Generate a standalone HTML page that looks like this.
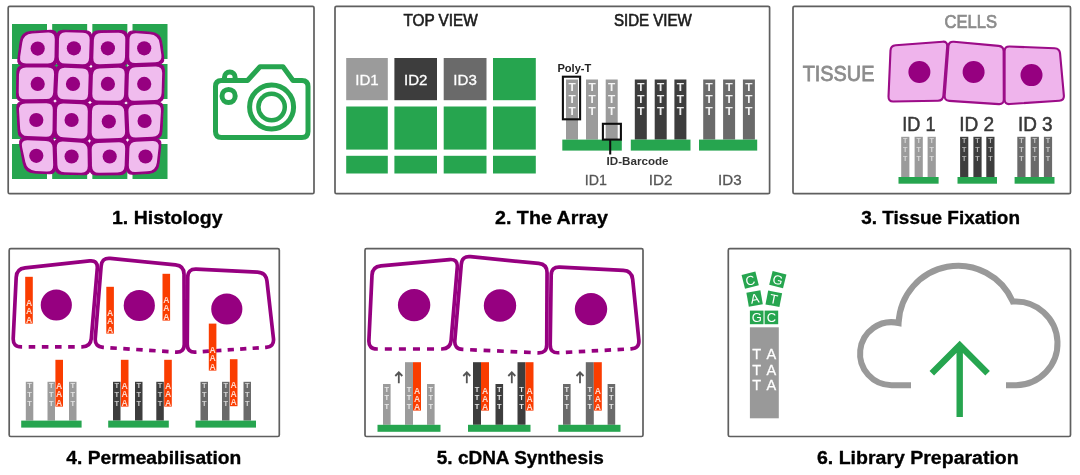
<!DOCTYPE html>
<html lang="en">
<head>
<meta charset="utf-8">
<title>Spatial transcriptomics workflow</title>
<style>
html,body{margin:0;padding:0;background:#fff;}
body{width:1080px;height:475px;overflow:hidden;}
svg{display:block;font-family:"Liberation Sans",sans-serif;will-change:transform;}
</style>
</head>
<body>
<svg width="1080" height="475" viewBox="0 0 1080 475">
<defs><filter id="soft" x="0" y="0" width="1080" height="475" filterUnits="userSpaceOnUse"><feGaussianBlur stdDeviation="0.4"/></filter></defs>
<rect width="1080" height="475" fill="#fff"/>
<g filter="url(#soft)">
<rect x="8.20" y="6.30" width="305.80" height="187.40" rx="1.5" fill="#fff" stroke="#5e5e5e" stroke-width="1.7"/>
<rect x="335.00" y="6.30" width="434.60" height="187.40" rx="1.5" fill="#fff" stroke="#5e5e5e" stroke-width="1.7"/>
<rect x="793.00" y="6.30" width="277.50" height="187.40" rx="1.5" fill="#fff" stroke="#5e5e5e" stroke-width="1.7"/>
<rect x="9.20" y="248.70" width="270.10" height="187.80" rx="1.5" fill="#fff" stroke="#5e5e5e" stroke-width="1.7"/>
<rect x="365.00" y="248.70" width="278.00" height="187.80" rx="1.5" fill="#fff" stroke="#5e5e5e" stroke-width="1.7"/>
<rect x="728.30" y="248.70" width="342.20" height="187.80" rx="1.5" fill="#fff" stroke="#5e5e5e" stroke-width="1.7"/>
<text x="112.00" y="224.40" font-size="19.20" fill="#000" font-weight="bold" text-anchor="start" textLength="110.50" lengthAdjust="spacingAndGlyphs" stroke="#000" stroke-width="0.35" stroke-linejoin="round">1. Histology</text>
<text x="495.00" y="224.40" font-size="19.20" fill="#000" font-weight="bold" text-anchor="start" textLength="113.00" lengthAdjust="spacingAndGlyphs" stroke="#000" stroke-width="0.35" stroke-linejoin="round">2. The Array</text>
<text x="861.30" y="224.40" font-size="19.20" fill="#000" font-weight="bold" text-anchor="start" textLength="158.70" lengthAdjust="spacingAndGlyphs" stroke="#000" stroke-width="0.35" stroke-linejoin="round">3. Tissue Fixation</text>
<text x="66.30" y="464.00" font-size="19.20" fill="#000" font-weight="bold" text-anchor="start" textLength="175.00" lengthAdjust="spacingAndGlyphs" stroke="#000" stroke-width="0.35" stroke-linejoin="round">4. Permeabilisation</text>
<text x="436.80" y="464.00" font-size="19.20" fill="#000" font-weight="bold" text-anchor="start" textLength="167.00" lengthAdjust="spacingAndGlyphs" stroke="#000" stroke-width="0.35" stroke-linejoin="round">5. cDNA Synthesis</text>
<text x="817.00" y="464.00" font-size="19.20" fill="#000" font-weight="bold" text-anchor="start" textLength="201.70" lengthAdjust="spacingAndGlyphs" stroke="#000" stroke-width="0.35" stroke-linejoin="round">6. Library Preparation</text>
<rect x="12.00" y="24.00" width="35.00" height="35.00" fill="#27a550" />
<rect x="52.17" y="24.00" width="35.00" height="35.00" fill="#27a550" />
<rect x="92.34" y="24.00" width="35.00" height="35.00" fill="#27a550" />
<rect x="132.51" y="24.00" width="35.00" height="35.00" fill="#27a550" />
<rect x="12.00" y="64.00" width="35.00" height="35.00" fill="#27a550" />
<rect x="52.17" y="64.00" width="35.00" height="35.00" fill="#27a550" />
<rect x="92.34" y="64.00" width="35.00" height="35.00" fill="#27a550" />
<rect x="132.51" y="64.00" width="35.00" height="35.00" fill="#27a550" />
<rect x="12.00" y="104.00" width="35.00" height="35.00" fill="#27a550" />
<rect x="52.17" y="104.00" width="35.00" height="35.00" fill="#27a550" />
<rect x="92.34" y="104.00" width="35.00" height="35.00" fill="#27a550" />
<rect x="132.51" y="104.00" width="35.00" height="35.00" fill="#27a550" />
<rect x="12.00" y="144.00" width="35.00" height="35.00" fill="#27a550" />
<rect x="52.17" y="144.00" width="35.00" height="35.00" fill="#27a550" />
<rect x="92.34" y="144.00" width="35.00" height="35.00" fill="#27a550" />
<rect x="132.51" y="144.00" width="35.00" height="35.00" fill="#27a550" />
<path d="M20.24 41.42 Q21.50 32.00 30.98 31.47 L50.51 30.37 Q57.00 30.00 56.91 36.50 L56.56 61.00 Q56.50 65.50 52.00 65.50 L23.50 65.50 Q17.00 65.50 17.87 59.06 Z" fill="#960080" stroke="#960080" stroke-width="1.1" stroke-linejoin="round"/>
<path d="M56.91 36.50 Q57.00 30.00 63.50 30.19 L85.50 30.81 Q92.00 31.00 91.82 37.50 L91.13 62.00 Q91.00 66.50 86.50 66.37 L61.00 65.63 Q56.50 65.50 56.56 61.00 Z" fill="#960080" stroke="#960080" stroke-width="1.1" stroke-linejoin="round"/>
<path d="M91.82 37.50 Q92.00 31.00 98.50 30.91 L121.00 30.59 Q127.50 30.50 127.41 37.00 L127.06 61.00 Q127.00 65.50 122.50 65.62 L95.50 66.38 Q91.00 66.50 91.13 62.00 Z" fill="#960080" stroke="#960080" stroke-width="1.1" stroke-linejoin="round"/>
<path d="M127.41 37.00 Q127.50 30.50 133.98 30.99 L151.03 32.28 Q160.50 33.00 161.72 42.42 L163.67 57.55 Q164.50 64.00 158.01 64.26 L131.50 65.32 Q127.00 65.50 127.06 61.00 Z" fill="#960080" stroke="#960080" stroke-width="1.1" stroke-linejoin="round"/>
<path d="M16.91 72.00 Q17.00 65.50 23.50 65.50 L52.00 65.50 Q56.50 65.50 56.31 70.00 L55.19 96.50 Q55.00 101.00 50.50 101.06 L23.00 101.42 Q16.50 101.50 16.59 95.00 Z" fill="#960080" stroke="#960080" stroke-width="1.1" stroke-linejoin="round"/>
<path d="M56.31 70.00 Q56.50 65.50 61.00 65.63 L86.50 66.37 Q91.00 66.50 90.88 71.00 L90.12 98.00 Q90.00 102.50 85.50 102.31 L59.50 101.19 Q55.00 101.00 55.19 96.50 Z" fill="#960080" stroke="#960080" stroke-width="1.1" stroke-linejoin="round"/>
<path d="M90.88 71.00 Q91.00 66.50 95.50 66.38 L122.50 65.62 Q127.00 65.50 126.88 70.00 L126.12 98.50 Q126.00 103.00 121.50 102.94 L94.50 102.56 Q90.00 102.50 90.12 98.00 Z" fill="#960080" stroke="#960080" stroke-width="1.1" stroke-linejoin="round"/>
<path d="M126.88 70.00 Q127.00 65.50 131.50 65.32 L158.01 64.26 Q164.50 64.00 164.33 70.50 L163.67 95.50 Q163.50 102.00 157.00 102.17 L130.50 102.88 Q126.00 103.00 126.12 98.50 Z" fill="#960080" stroke="#960080" stroke-width="1.1" stroke-linejoin="round"/>
<path d="M16.86 107.99 Q16.50 101.50 23.00 101.42 L50.50 101.06 Q55.00 101.00 54.94 105.50 L54.56 134.50 Q54.50 139.00 50.00 138.88 L25.00 138.18 Q18.50 138.00 18.14 131.51 Z" fill="#960080" stroke="#960080" stroke-width="1.1" stroke-linejoin="round"/>
<path d="M54.94 105.50 Q55.00 101.00 59.50 101.19 L85.50 102.31 Q90.00 102.50 89.94 107.00 L89.56 136.50 Q89.50 141.00 85.01 140.74 L58.99 139.26 Q54.50 139.00 54.56 134.50 Z" fill="#960080" stroke="#960080" stroke-width="1.1" stroke-linejoin="round"/>
<path d="M89.94 107.00 Q90.00 102.50 94.50 102.56 L121.50 102.94 Q126.00 103.00 126.18 107.50 L127.32 135.50 Q127.50 140.00 123.00 140.12 L94.00 140.88 Q89.50 141.00 89.56 136.50 Z" fill="#960080" stroke="#960080" stroke-width="1.1" stroke-linejoin="round"/>
<path d="M126.18 107.50 Q126.00 103.00 130.50 102.88 L157.00 102.17 Q163.50 102.00 163.14 108.49 L161.86 132.01 Q161.50 138.50 155.01 138.79 L132.00 139.80 Q127.50 140.00 127.32 135.50 Z" fill="#960080" stroke="#960080" stroke-width="1.1" stroke-linejoin="round"/>
<path d="M19.70 144.39 Q18.50 138.00 25.00 138.18 L50.00 138.88 Q54.50 139.00 54.63 143.50 L55.31 167.50 Q55.50 174.00 49.01 173.68 L34.49 172.97 Q25.00 172.50 23.24 163.16 Z" fill="#960080" stroke="#960080" stroke-width="1.1" stroke-linejoin="round"/>
<path d="M54.63 143.50 Q54.50 139.00 58.99 139.26 L85.01 140.74 Q89.50 141.00 89.57 145.50 L89.90 168.50 Q90.00 175.00 83.50 174.81 L62.00 174.19 Q55.50 174.00 55.31 167.50 Z" fill="#960080" stroke="#960080" stroke-width="1.1" stroke-linejoin="round"/>
<path d="M89.57 145.50 Q89.50 141.00 94.00 140.88 L123.00 140.12 Q127.50 140.00 127.37 144.50 L126.69 168.00 Q126.50 174.50 120.00 174.59 L96.50 174.91 Q90.00 175.00 89.90 168.50 Z" fill="#960080" stroke="#960080" stroke-width="1.1" stroke-linejoin="round"/>
<path d="M127.37 144.50 Q127.50 140.00 132.00 139.80 L155.01 138.79 Q161.50 138.50 160.84 144.97 L158.96 163.55 Q158.00 173.00 148.51 173.45 L132.99 174.19 Q126.50 174.50 126.69 168.00 Z" fill="#960080" stroke="#960080" stroke-width="1.1" stroke-linejoin="round"/>
<path d="M22.31 42.50 Q23.60 34.10 32.08 33.56 L47.91 32.55 Q54.90 32.10 54.79 39.10 L54.50 56.90 Q54.40 63.40 47.90 63.40 L26.10 63.40 Q19.10 63.40 20.16 56.48 Z" fill="#f0bcee"/>
<circle cx="37.70" cy="48.60" r="7.1" fill="#960080"/>
<path d="M58.99 39.10 Q59.10 32.10 66.10 32.33 L82.90 32.87 Q89.90 33.10 89.68 40.10 L89.11 57.90 Q88.90 64.40 82.40 64.19 L65.10 63.61 Q58.60 63.40 58.70 56.90 Z" fill="#f0bcee"/>
<circle cx="73.90" cy="48.30" r="7.1" fill="#960080"/>
<path d="M93.88 40.10 Q94.10 33.10 101.10 32.99 L118.40 32.71 Q125.40 32.60 125.29 39.60 L125.01 56.90 Q124.90 63.40 118.40 63.60 L99.60 64.20 Q93.10 64.40 93.31 57.90 Z" fill="#f0bcee"/>
<circle cx="107.90" cy="48.30" r="7.1" fill="#960080"/>
<path d="M129.49 39.60 Q129.60 32.60 136.57 33.21 L149.93 34.36 Q158.40 35.10 159.65 43.51 L161.37 54.98 Q162.40 61.90 155.41 62.21 L135.59 63.11 Q129.10 63.40 129.21 56.90 Z" fill="#f0bcee"/>
<circle cx="144.20" cy="48.30" r="7.1" fill="#960080"/>
<path d="M18.99 74.60 Q19.10 67.60 26.10 67.60 L47.90 67.60 Q54.40 67.60 54.09 74.09 L53.21 92.41 Q52.90 98.90 46.40 98.99 L25.60 99.30 Q18.60 99.40 18.71 92.40 Z" fill="#f0bcee"/>
<circle cx="37.70" cy="83.90" r="7.1" fill="#960080"/>
<path d="M58.29 74.09 Q58.60 67.60 65.10 67.81 L82.40 68.39 Q88.90 68.60 88.70 75.10 L88.10 93.90 Q87.90 100.40 81.41 100.08 L63.59 99.22 Q57.10 98.90 57.41 92.41 Z" fill="#f0bcee"/>
<circle cx="73.00" cy="83.90" r="7.1" fill="#960080"/>
<path d="M92.90 75.10 Q93.10 68.60 99.60 68.40 L118.40 67.80 Q124.90 67.60 124.70 74.10 L124.10 94.40 Q123.90 100.90 117.40 100.80 L98.60 100.50 Q92.10 100.40 92.30 93.90 Z" fill="#f0bcee"/>
<circle cx="107.90" cy="83.90" r="7.1" fill="#960080"/>
<path d="M128.90 74.10 Q129.10 67.60 135.59 67.31 L155.41 66.41 Q162.40 66.10 162.19 73.10 L161.61 92.90 Q161.40 99.90 154.40 100.11 L134.60 100.70 Q128.10 100.90 128.30 94.40 Z" fill="#f0bcee"/>
<circle cx="144.20" cy="83.90" r="7.1" fill="#960080"/>
<path d="M19.03 110.59 Q18.60 103.60 25.60 103.50 L46.40 103.19 Q52.90 103.10 52.80 109.60 L52.50 130.40 Q52.40 136.90 45.90 136.70 L27.60 136.12 Q20.60 135.90 20.17 128.91 Z" fill="#f0bcee"/>
<circle cx="36.30" cy="120.00" r="7.1" fill="#960080"/>
<path d="M57.00 109.60 Q57.10 103.10 63.59 103.42 L81.41 104.28 Q87.90 104.60 87.81 111.10 L87.49 132.40 Q87.40 138.90 80.91 138.48 L63.09 137.32 Q56.60 136.90 56.70 130.40 Z" fill="#f0bcee"/>
<circle cx="71.60" cy="120.00" r="7.1" fill="#960080"/>
<path d="M92.01 111.10 Q92.10 104.60 98.60 104.70 L117.40 105.00 Q123.90 105.10 124.20 111.59 L125.10 131.41 Q125.40 137.90 118.90 138.09 L98.10 138.71 Q91.60 138.90 91.69 132.40 Z" fill="#f0bcee"/>
<circle cx="108.80" cy="121.50" r="7.1" fill="#960080"/>
<path d="M128.40 111.59 Q128.10 105.10 134.60 104.90 L154.40 104.31 Q161.40 104.10 160.97 111.09 L159.83 129.41 Q159.40 136.40 152.41 136.75 L136.09 137.57 Q129.60 137.90 129.30 131.41 Z" fill="#f0bcee"/>
<circle cx="144.60" cy="121.00" r="7.1" fill="#960080"/>
<path d="M22.07 146.94 Q20.60 140.10 27.60 140.32 L45.90 140.90 Q52.40 141.10 52.61 147.60 L53.17 164.90 Q53.40 171.90 46.41 171.50 L35.59 170.88 Q27.10 170.40 25.32 162.09 Z" fill="#f0bcee"/>
<circle cx="36.30" cy="155.80" r="7.1" fill="#960080"/>
<path d="M56.81 147.60 Q56.60 141.10 63.09 141.52 L80.91 142.68 Q87.40 143.10 87.51 149.60 L87.78 165.90 Q87.90 172.90 80.90 172.67 L64.60 172.13 Q57.60 171.90 57.37 164.90 Z" fill="#f0bcee"/>
<circle cx="71.60" cy="156.50" r="7.1" fill="#960080"/>
<path d="M91.71 149.60 Q91.60 143.10 98.10 142.91 L118.90 142.29 Q125.40 142.10 125.19 148.60 L124.63 165.40 Q124.40 172.40 117.40 172.51 L99.10 172.79 Q92.10 172.90 91.98 165.90 Z" fill="#f0bcee"/>
<circle cx="109.70" cy="156.50" r="7.1" fill="#960080"/>
<path d="M129.39 148.60 Q129.60 142.10 136.09 141.77 L152.41 140.95 Q159.40 140.60 158.60 147.55 L156.88 162.46 Q155.90 170.90 147.41 171.37 L135.59 172.02 Q128.60 172.40 128.83 165.40 Z" fill="#f0bcee"/>
<circle cx="145.50" cy="156.50" r="7.1" fill="#960080"/>
<g fill="none" stroke="#27a550" stroke-width="5" stroke-linejoin="round" stroke-linecap="round">
<path d="M221.5 80.5 L247.5 80.5 L260 66.7 L283 66.7 L293 80.5 L302 80.5 Q308 80.5 308 86.5 L308 131.5 Q308 137.5 302 137.5 L221.5 137.5 Q215.5 137.5 215.5 131.5 L215.5 86.5 Q215.5 80.5 221.5 80.5 Z"/>
<circle cx="271.6" cy="107" r="22"/>
<circle cx="271.6" cy="107" r="13.2" stroke-width="4.5"/>
<circle cx="228.6" cy="96" r="6.6"/>
<path d="M224.5 79.5 L224.5 77.2 A5.3 5.3 0 0 1 235.1 77.2 L235.1 79.5" stroke-width="5"/>
</g>
<text x="403.40" y="26.00" font-size="15.60" fill="#1c1c1c" font-weight="normal" text-anchor="start" textLength="74.40" lengthAdjust="spacingAndGlyphs" stroke="#1c1c1c" stroke-width="0.6">TOP VIEW</text>
<text x="613.90" y="26.00" font-size="15.60" fill="#1c1c1c" font-weight="normal" text-anchor="start" textLength="77.90" lengthAdjust="spacingAndGlyphs" stroke="#1c1c1c" stroke-width="0.6">SIDE VIEW</text>
<rect x="346.20" y="58.00" width="41.60" height="42.20" fill="#9b9b9b" />
<rect x="394.40" y="58.00" width="42.60" height="42.20" fill="#3d3d3d" />
<rect x="443.70" y="58.00" width="42.80" height="42.20" fill="#6a6a6a" />
<rect x="493.00" y="58.00" width="42.80" height="42.20" fill="#27a550" />
<rect x="346.20" y="106.50" width="41.60" height="43.10" fill="#27a550" />
<rect x="394.40" y="106.50" width="42.60" height="43.10" fill="#27a550" />
<rect x="443.70" y="106.50" width="42.80" height="43.10" fill="#27a550" />
<rect x="493.00" y="106.50" width="42.80" height="43.10" fill="#27a550" />
<rect x="346.20" y="155.80" width="41.60" height="17.70" fill="#27a550" />
<rect x="394.40" y="155.80" width="42.60" height="17.70" fill="#27a550" />
<rect x="443.70" y="155.80" width="42.80" height="17.70" fill="#27a550" />
<rect x="493.00" y="155.80" width="42.80" height="17.70" fill="#27a550" />
<text x="367.00" y="84.60" font-size="15.50" fill="#fff" font-weight="normal" text-anchor="middle" textLength="23.50" lengthAdjust="spacingAndGlyphs" stroke="#fff" stroke-width="0.3">ID1</text>
<text x="415.70" y="84.60" font-size="15.50" fill="#fff" font-weight="normal" text-anchor="middle" textLength="23.50" lengthAdjust="spacingAndGlyphs" stroke="#fff" stroke-width="0.3">ID2</text>
<text x="465.10" y="84.60" font-size="15.50" fill="#fff" font-weight="normal" text-anchor="middle" textLength="23.50" lengthAdjust="spacingAndGlyphs" stroke="#fff" stroke-width="0.3">ID3</text>
<rect x="566.00" y="79.50" width="12.00" height="60.10" fill="#9b9b9b" />
<text x="572.00" y="91.20" font-size="11.80" fill="#fff" font-weight="bold" text-anchor="middle" opacity="0.90">T</text>
<text x="572.00" y="103.00" font-size="11.80" fill="#fff" font-weight="bold" text-anchor="middle" opacity="0.90">T</text>
<text x="572.00" y="115.00" font-size="11.80" fill="#fff" font-weight="bold" text-anchor="middle" opacity="0.90">T</text>
<rect x="586.00" y="79.50" width="12.00" height="60.10" fill="#9b9b9b" />
<text x="592.00" y="91.20" font-size="11.80" fill="#fff" font-weight="bold" text-anchor="middle" opacity="0.90">T</text>
<text x="592.00" y="103.00" font-size="11.80" fill="#fff" font-weight="bold" text-anchor="middle" opacity="0.90">T</text>
<text x="592.00" y="115.00" font-size="11.80" fill="#fff" font-weight="bold" text-anchor="middle" opacity="0.90">T</text>
<rect x="605.70" y="79.50" width="12.00" height="60.10" fill="#9b9b9b" />
<text x="611.70" y="91.20" font-size="11.80" fill="#fff" font-weight="bold" text-anchor="middle" opacity="0.90">T</text>
<text x="611.70" y="103.00" font-size="11.80" fill="#fff" font-weight="bold" text-anchor="middle" opacity="0.90">T</text>
<text x="611.70" y="115.00" font-size="11.80" fill="#fff" font-weight="bold" text-anchor="middle" opacity="0.90">T</text>
<rect x="562.30" y="139.60" width="59.50" height="11.00" fill="#27a550" />
<rect x="634.80" y="79.50" width="12.00" height="60.10" fill="#3d3d3d" />
<text x="640.80" y="91.20" font-size="11.80" fill="#fff" font-weight="bold" text-anchor="middle" opacity="0.90">T</text>
<text x="640.80" y="103.00" font-size="11.80" fill="#fff" font-weight="bold" text-anchor="middle" opacity="0.90">T</text>
<text x="640.80" y="115.00" font-size="11.80" fill="#fff" font-weight="bold" text-anchor="middle" opacity="0.90">T</text>
<rect x="654.70" y="79.50" width="12.00" height="60.10" fill="#3d3d3d" />
<text x="660.70" y="91.20" font-size="11.80" fill="#fff" font-weight="bold" text-anchor="middle" opacity="0.90">T</text>
<text x="660.70" y="103.00" font-size="11.80" fill="#fff" font-weight="bold" text-anchor="middle" opacity="0.90">T</text>
<text x="660.70" y="115.00" font-size="11.80" fill="#fff" font-weight="bold" text-anchor="middle" opacity="0.90">T</text>
<rect x="674.40" y="79.50" width="12.00" height="60.10" fill="#3d3d3d" />
<text x="680.40" y="91.20" font-size="11.80" fill="#fff" font-weight="bold" text-anchor="middle" opacity="0.90">T</text>
<text x="680.40" y="103.00" font-size="11.80" fill="#fff" font-weight="bold" text-anchor="middle" opacity="0.90">T</text>
<text x="680.40" y="115.00" font-size="11.80" fill="#fff" font-weight="bold" text-anchor="middle" opacity="0.90">T</text>
<rect x="630.80" y="139.60" width="59.70" height="11.00" fill="#27a550" />
<rect x="703.20" y="79.50" width="12.00" height="60.10" fill="#6a6a6a" />
<text x="709.20" y="91.20" font-size="11.80" fill="#fff" font-weight="bold" text-anchor="middle" opacity="0.90">T</text>
<text x="709.20" y="103.00" font-size="11.80" fill="#fff" font-weight="bold" text-anchor="middle" opacity="0.90">T</text>
<text x="709.20" y="115.00" font-size="11.80" fill="#fff" font-weight="bold" text-anchor="middle" opacity="0.90">T</text>
<rect x="723.10" y="79.50" width="12.00" height="60.10" fill="#6a6a6a" />
<text x="729.10" y="91.20" font-size="11.80" fill="#fff" font-weight="bold" text-anchor="middle" opacity="0.90">T</text>
<text x="729.10" y="103.00" font-size="11.80" fill="#fff" font-weight="bold" text-anchor="middle" opacity="0.90">T</text>
<text x="729.10" y="115.00" font-size="11.80" fill="#fff" font-weight="bold" text-anchor="middle" opacity="0.90">T</text>
<rect x="742.90" y="79.50" width="12.00" height="60.10" fill="#6a6a6a" />
<text x="748.90" y="91.20" font-size="11.80" fill="#fff" font-weight="bold" text-anchor="middle" opacity="0.90">T</text>
<text x="748.90" y="103.00" font-size="11.80" fill="#fff" font-weight="bold" text-anchor="middle" opacity="0.90">T</text>
<text x="748.90" y="115.00" font-size="11.80" fill="#fff" font-weight="bold" text-anchor="middle" opacity="0.90">T</text>
<rect x="699.00" y="139.60" width="58.20" height="11.00" fill="#27a550" />
<rect x="562.9" y="76.7" width="17.2" height="42.6" fill="none" stroke="#111" stroke-width="2.1"/>
<rect x="602.9" y="123.8" width="18.0" height="15.8" fill="none" stroke="#111" stroke-width="2.1"/>
<path d="M610.2 140 L610.2 154.5" stroke="#111" stroke-width="2.1" fill="none"/>
<text x="557.40" y="72.10" font-size="11.80" fill="#222" font-weight="bold" text-anchor="start" textLength="33.90" lengthAdjust="spacingAndGlyphs" >Poly-T</text>
<text x="606.60" y="164.80" font-size="11.60" fill="#333" font-weight="bold" text-anchor="start" textLength="62.00" lengthAdjust="spacingAndGlyphs" >ID-Barcode</text>
<text x="584.80" y="184.90" font-size="15.00" fill="#555" font-weight="normal" text-anchor="start" textLength="22.10" lengthAdjust="spacingAndGlyphs" stroke="#555" stroke-width="0.3">ID1</text>
<text x="648.80" y="184.90" font-size="15.00" fill="#555" font-weight="normal" text-anchor="start" textLength="23.60" lengthAdjust="spacingAndGlyphs" stroke="#555" stroke-width="0.3">ID2</text>
<text x="718.10" y="184.90" font-size="15.00" fill="#555" font-weight="normal" text-anchor="start" textLength="23.60" lengthAdjust="spacingAndGlyphs" stroke="#555" stroke-width="0.3">ID3</text>
<text x="944.50" y="27.80" font-size="17.60" fill="#8c8c8c" font-weight="normal" text-anchor="start" textLength="52.50" lengthAdjust="spacingAndGlyphs" stroke="#8c8c8c" stroke-width="0.7">CELLS</text>
<text x="802.70" y="81.10" font-size="22.20" fill="#8c8c8c" font-weight="normal" text-anchor="start" textLength="71.70" lengthAdjust="spacingAndGlyphs" stroke="#8c8c8c" stroke-width="0.8">TISSUE</text>
<path d="M890.49 50.60 Q890.70 45.60 895.69 45.22 L942.61 41.68 Q947.60 41.30 947.21 46.29 L943.39 95.61 Q943.00 100.60 938.00 100.69 L893.30 101.51 Q888.30 101.60 888.51 96.60 Z" fill="#efb4ec" stroke="#9c0a88" stroke-width="2.1" stroke-linejoin="round"/>
<path d="M948.42 46.29 Q948.80 41.30 953.78 41.75 L998.62 45.85 Q1003.60 46.30 1003.62 51.30 L1003.78 99.40 Q1003.80 104.40 998.81 104.08 L949.29 100.92 Q944.30 100.60 944.68 95.61 Z" fill="#efb4ec" stroke="#9c0a88" stroke-width="2.1" stroke-linejoin="round"/>
<path d="M1004.60 51.30 Q1004.60 46.30 1009.60 46.49 L1054.60 48.21 Q1059.60 48.40 1060.05 53.38 L1063.85 95.42 Q1064.30 100.40 1059.31 100.73 L1009.59 104.07 Q1004.60 104.40 1004.60 99.40 Z" fill="#efb4ec" stroke="#9c0a88" stroke-width="2.1" stroke-linejoin="round"/>
<circle cx="919.40" cy="72.00" r="11" fill="#960080"/>
<circle cx="973.60" cy="72.00" r="11" fill="#960080"/>
<circle cx="1031.50" cy="75.10" r="11" fill="#960080"/>
<text x="902.30" y="131.10" font-size="19.60" fill="#383838" font-weight="normal" text-anchor="start" textLength="33.20" lengthAdjust="spacingAndGlyphs" stroke="#383838" stroke-width="0.5">ID 1</text>
<text x="959.20" y="131.10" font-size="19.60" fill="#383838" font-weight="normal" text-anchor="start" textLength="35.00" lengthAdjust="spacingAndGlyphs" stroke="#383838" stroke-width="0.5">ID 2</text>
<text x="1017.90" y="131.10" font-size="19.60" fill="#383838" font-weight="normal" text-anchor="start" textLength="34.70" lengthAdjust="spacingAndGlyphs" stroke="#383838" stroke-width="0.5">ID 3</text>
<rect x="901.20" y="136.80" width="8.20" height="40.20" fill="#9b9b9b" />
<text x="905.30" y="142.60" font-size="7.20" fill="#fff" font-weight="bold" text-anchor="middle" opacity="0.60">T</text>
<text x="905.30" y="152.00" font-size="7.20" fill="#fff" font-weight="bold" text-anchor="middle" opacity="0.60">T</text>
<text x="905.30" y="161.40" font-size="7.20" fill="#fff" font-weight="bold" text-anchor="middle" opacity="0.60">T</text>
<rect x="914.60" y="136.80" width="8.20" height="40.20" fill="#9b9b9b" />
<text x="918.70" y="142.60" font-size="7.20" fill="#fff" font-weight="bold" text-anchor="middle" opacity="0.60">T</text>
<text x="918.70" y="152.00" font-size="7.20" fill="#fff" font-weight="bold" text-anchor="middle" opacity="0.60">T</text>
<text x="918.70" y="161.40" font-size="7.20" fill="#fff" font-weight="bold" text-anchor="middle" opacity="0.60">T</text>
<rect x="927.60" y="136.80" width="8.20" height="40.20" fill="#9b9b9b" />
<text x="931.70" y="142.60" font-size="7.20" fill="#fff" font-weight="bold" text-anchor="middle" opacity="0.60">T</text>
<text x="931.70" y="152.00" font-size="7.20" fill="#fff" font-weight="bold" text-anchor="middle" opacity="0.60">T</text>
<text x="931.70" y="161.40" font-size="7.20" fill="#fff" font-weight="bold" text-anchor="middle" opacity="0.60">T</text>
<rect x="898.50" y="177.00" width="40.10" height="6.70" fill="#27a550" />
<rect x="960.10" y="136.80" width="8.20" height="40.20" fill="#3d3d3d" />
<text x="964.20" y="142.60" font-size="7.20" fill="#fff" font-weight="bold" text-anchor="middle" opacity="0.60">T</text>
<text x="964.20" y="152.00" font-size="7.20" fill="#fff" font-weight="bold" text-anchor="middle" opacity="0.60">T</text>
<text x="964.20" y="161.40" font-size="7.20" fill="#fff" font-weight="bold" text-anchor="middle" opacity="0.60">T</text>
<rect x="973.40" y="136.80" width="8.20" height="40.20" fill="#3d3d3d" />
<text x="977.50" y="142.60" font-size="7.20" fill="#fff" font-weight="bold" text-anchor="middle" opacity="0.60">T</text>
<text x="977.50" y="152.00" font-size="7.20" fill="#fff" font-weight="bold" text-anchor="middle" opacity="0.60">T</text>
<text x="977.50" y="161.40" font-size="7.20" fill="#fff" font-weight="bold" text-anchor="middle" opacity="0.60">T</text>
<rect x="986.30" y="136.80" width="8.20" height="40.20" fill="#3d3d3d" />
<text x="990.40" y="142.60" font-size="7.20" fill="#fff" font-weight="bold" text-anchor="middle" opacity="0.60">T</text>
<text x="990.40" y="152.00" font-size="7.20" fill="#fff" font-weight="bold" text-anchor="middle" opacity="0.60">T</text>
<text x="990.40" y="161.40" font-size="7.20" fill="#fff" font-weight="bold" text-anchor="middle" opacity="0.60">T</text>
<rect x="957.50" y="177.00" width="39.50" height="6.70" fill="#27a550" />
<rect x="1017.30" y="136.80" width="8.20" height="40.20" fill="#6a6a6a" />
<text x="1021.40" y="142.60" font-size="7.20" fill="#fff" font-weight="bold" text-anchor="middle" opacity="0.60">T</text>
<text x="1021.40" y="152.00" font-size="7.20" fill="#fff" font-weight="bold" text-anchor="middle" opacity="0.60">T</text>
<text x="1021.40" y="161.40" font-size="7.20" fill="#fff" font-weight="bold" text-anchor="middle" opacity="0.60">T</text>
<rect x="1030.70" y="136.80" width="8.20" height="40.20" fill="#6a6a6a" />
<text x="1034.80" y="142.60" font-size="7.20" fill="#fff" font-weight="bold" text-anchor="middle" opacity="0.60">T</text>
<text x="1034.80" y="152.00" font-size="7.20" fill="#fff" font-weight="bold" text-anchor="middle" opacity="0.60">T</text>
<text x="1034.80" y="161.40" font-size="7.20" fill="#fff" font-weight="bold" text-anchor="middle" opacity="0.60">T</text>
<rect x="1043.90" y="136.80" width="8.20" height="40.20" fill="#6a6a6a" />
<text x="1048.00" y="142.60" font-size="7.20" fill="#fff" font-weight="bold" text-anchor="middle" opacity="0.60">T</text>
<text x="1048.00" y="152.00" font-size="7.20" fill="#fff" font-weight="bold" text-anchor="middle" opacity="0.60">T</text>
<text x="1048.00" y="161.40" font-size="7.20" fill="#fff" font-weight="bold" text-anchor="middle" opacity="0.60">T</text>
<rect x="1014.60" y="177.00" width="39.90" height="6.70" fill="#27a550" />
<path d="M22.10 346.80 L21.30 346.80 Q12.80 346.80 13.21 338.31 L16.19 277.29 Q16.60 268.80 25.05 267.89 L89.55 260.91 Q98.00 260.00 97.28 268.47 L91.32 338.33 Q90.60 346.80 82.10 346.80 L81.30 346.80" fill="none" stroke="#960080" stroke-width="3.70" stroke-linejoin="round"/>
<path d="M22.10 346.80 L81.30 346.80" fill="none" stroke="#960080" stroke-width="3.70" stroke-dasharray="6.58 6.58" stroke-dashoffset="6.58"/>
<path d="M103.88 347.40 L103.08 347.35 Q94.60 346.80 95.28 338.33 L101.12 266.07 Q101.80 257.60 110.26 258.44 L175.54 264.96 Q184.00 265.80 184.03 274.30 L184.27 344.10 Q184.30 352.60 175.82 352.05 L175.02 352.00" fill="none" stroke="#960080" stroke-width="3.70" stroke-linejoin="round"/>
<path d="M103.88 347.40 L175.02 352.00" fill="none" stroke="#960080" stroke-width="3.70" stroke-dasharray="6.48 6.48" stroke-dashoffset="6.48"/>
<path d="M196.48 351.98 L195.68 352.04 Q187.20 352.60 187.26 344.10 L187.74 277.30 Q187.80 268.80 196.29 269.21 L257.51 272.19 Q266.00 272.60 266.96 281.05 L273.44 338.35 Q274.40 346.80 265.92 347.36 L265.12 347.42" fill="none" stroke="#960080" stroke-width="3.70" stroke-linejoin="round"/>
<path d="M196.48 351.98 L265.12 347.42" fill="none" stroke="#960080" stroke-width="3.70" stroke-dasharray="6.25 6.25" stroke-dashoffset="6.25"/>
<circle cx="56.30" cy="305.00" r="15.6" fill="#960080"/>
<circle cx="139.30" cy="305.50" r="15.6" fill="#960080"/>
<circle cx="226.80" cy="309.00" r="15.6" fill="#960080"/>
<rect x="25.20" y="276.80" width="7.60" height="46.80" fill="#fa3c05" />
<text x="29.00" y="322.80" font-size="8.60" fill="#ffd9c9" font-weight="bold" text-anchor="middle" >A</text>
<text x="29.00" y="314.20" font-size="8.60" fill="#ffd9c9" font-weight="bold" text-anchor="middle" >A</text>
<text x="29.00" y="305.60" font-size="8.60" fill="#ffd9c9" font-weight="bold" text-anchor="middle" >A</text>
<rect x="106.30" y="286.80" width="7.60" height="46.80" fill="#fa3c05" />
<text x="110.10" y="332.80" font-size="8.60" fill="#ffd9c9" font-weight="bold" text-anchor="middle" >A</text>
<text x="110.10" y="324.20" font-size="8.60" fill="#ffd9c9" font-weight="bold" text-anchor="middle" >A</text>
<text x="110.10" y="315.60" font-size="8.60" fill="#ffd9c9" font-weight="bold" text-anchor="middle" >A</text>
<rect x="162.50" y="273.80" width="7.60" height="46.80" fill="#fa3c05" />
<text x="166.30" y="319.80" font-size="8.60" fill="#ffd9c9" font-weight="bold" text-anchor="middle" >A</text>
<text x="166.30" y="311.20" font-size="8.60" fill="#ffd9c9" font-weight="bold" text-anchor="middle" >A</text>
<text x="166.30" y="302.60" font-size="8.60" fill="#ffd9c9" font-weight="bold" text-anchor="middle" >A</text>
<rect x="208.80" y="323.60" width="7.60" height="47.00" fill="#fa3c05" />
<text x="212.60" y="369.80" font-size="8.60" fill="#ffd9c9" font-weight="bold" text-anchor="middle" >A</text>
<text x="212.60" y="361.20" font-size="8.60" fill="#ffd9c9" font-weight="bold" text-anchor="middle" >A</text>
<text x="212.60" y="352.60" font-size="8.60" fill="#ffd9c9" font-weight="bold" text-anchor="middle" >A</text>
<rect x="25.80" y="381.80" width="7.50" height="38.80" fill="#9b9b9b" />
<text x="29.55" y="388.30" font-size="7.50" fill="#ffffff" font-weight="bold" text-anchor="middle" opacity="0.72">T</text>
<text x="29.55" y="397.00" font-size="7.50" fill="#ffffff" font-weight="bold" text-anchor="middle" opacity="0.72">T</text>
<text x="29.55" y="405.70" font-size="7.50" fill="#ffffff" font-weight="bold" text-anchor="middle" opacity="0.72">T</text>
<rect x="47.50" y="381.80" width="7.50" height="38.80" fill="#9b9b9b" />
<text x="51.25" y="388.30" font-size="7.50" fill="#ffffff" font-weight="bold" text-anchor="middle" opacity="0.72">T</text>
<text x="51.25" y="397.00" font-size="7.50" fill="#ffffff" font-weight="bold" text-anchor="middle" opacity="0.72">T</text>
<text x="51.25" y="405.70" font-size="7.50" fill="#ffffff" font-weight="bold" text-anchor="middle" opacity="0.72">T</text>
<rect x="69.00" y="381.80" width="7.50" height="38.80" fill="#9b9b9b" />
<text x="72.75" y="388.30" font-size="7.50" fill="#ffffff" font-weight="bold" text-anchor="middle" opacity="0.72">T</text>
<text x="72.75" y="397.00" font-size="7.50" fill="#ffffff" font-weight="bold" text-anchor="middle" opacity="0.72">T</text>
<text x="72.75" y="405.70" font-size="7.50" fill="#ffffff" font-weight="bold" text-anchor="middle" opacity="0.72">T</text>
<rect x="21.20" y="420.60" width="60.40" height="7.00" fill="#27a550" />
<rect x="113.00" y="381.80" width="7.50" height="38.80" fill="#3d3d3d" />
<text x="116.75" y="388.30" font-size="7.50" fill="#ffffff" font-weight="bold" text-anchor="middle" opacity="0.72">T</text>
<text x="116.75" y="397.00" font-size="7.50" fill="#ffffff" font-weight="bold" text-anchor="middle" opacity="0.72">T</text>
<text x="116.75" y="405.70" font-size="7.50" fill="#ffffff" font-weight="bold" text-anchor="middle" opacity="0.72">T</text>
<rect x="135.00" y="381.80" width="7.50" height="38.80" fill="#3d3d3d" />
<text x="138.75" y="388.30" font-size="7.50" fill="#ffffff" font-weight="bold" text-anchor="middle" opacity="0.72">T</text>
<text x="138.75" y="397.00" font-size="7.50" fill="#ffffff" font-weight="bold" text-anchor="middle" opacity="0.72">T</text>
<text x="138.75" y="405.70" font-size="7.50" fill="#ffffff" font-weight="bold" text-anchor="middle" opacity="0.72">T</text>
<rect x="156.30" y="381.80" width="7.50" height="38.80" fill="#3d3d3d" />
<text x="160.05" y="388.30" font-size="7.50" fill="#ffffff" font-weight="bold" text-anchor="middle" opacity="0.72">T</text>
<text x="160.05" y="397.00" font-size="7.50" fill="#ffffff" font-weight="bold" text-anchor="middle" opacity="0.72">T</text>
<text x="160.05" y="405.70" font-size="7.50" fill="#ffffff" font-weight="bold" text-anchor="middle" opacity="0.72">T</text>
<rect x="108.20" y="420.60" width="60.60" height="7.00" fill="#27a550" />
<rect x="200.50" y="381.80" width="7.50" height="38.80" fill="#6a6a6a" />
<text x="204.25" y="388.30" font-size="7.50" fill="#ffffff" font-weight="bold" text-anchor="middle" opacity="0.72">T</text>
<text x="204.25" y="397.00" font-size="7.50" fill="#ffffff" font-weight="bold" text-anchor="middle" opacity="0.72">T</text>
<text x="204.25" y="405.70" font-size="7.50" fill="#ffffff" font-weight="bold" text-anchor="middle" opacity="0.72">T</text>
<rect x="222.00" y="381.80" width="7.50" height="38.80" fill="#6a6a6a" />
<text x="225.75" y="388.30" font-size="7.50" fill="#ffffff" font-weight="bold" text-anchor="middle" opacity="0.72">T</text>
<text x="225.75" y="397.00" font-size="7.50" fill="#ffffff" font-weight="bold" text-anchor="middle" opacity="0.72">T</text>
<text x="225.75" y="405.70" font-size="7.50" fill="#ffffff" font-weight="bold" text-anchor="middle" opacity="0.72">T</text>
<rect x="243.50" y="381.80" width="7.50" height="38.80" fill="#6a6a6a" />
<text x="247.25" y="388.30" font-size="7.50" fill="#ffffff" font-weight="bold" text-anchor="middle" opacity="0.72">T</text>
<text x="247.25" y="397.00" font-size="7.50" fill="#ffffff" font-weight="bold" text-anchor="middle" opacity="0.72">T</text>
<text x="247.25" y="405.70" font-size="7.50" fill="#ffffff" font-weight="bold" text-anchor="middle" opacity="0.72">T</text>
<rect x="195.50" y="420.60" width="60.50" height="7.00" fill="#27a550" />
<rect x="55.40" y="359.80" width="7.60" height="46.80" fill="#fa3c05" />
<text x="59.20" y="405.80" font-size="8.60" fill="#ffd9c9" font-weight="bold" text-anchor="middle" >A</text>
<text x="59.20" y="397.20" font-size="8.60" fill="#ffd9c9" font-weight="bold" text-anchor="middle" >A</text>
<text x="59.20" y="388.60" font-size="8.60" fill="#ffd9c9" font-weight="bold" text-anchor="middle" >A</text>
<rect x="120.90" y="359.80" width="7.60" height="46.80" fill="#fa3c05" />
<text x="124.70" y="405.80" font-size="8.60" fill="#ffd9c9" font-weight="bold" text-anchor="middle" >A</text>
<text x="124.70" y="397.20" font-size="8.60" fill="#ffd9c9" font-weight="bold" text-anchor="middle" >A</text>
<text x="124.70" y="388.60" font-size="8.60" fill="#ffd9c9" font-weight="bold" text-anchor="middle" >A</text>
<rect x="164.20" y="359.80" width="7.60" height="46.80" fill="#fa3c05" />
<text x="168.00" y="405.80" font-size="8.60" fill="#ffd9c9" font-weight="bold" text-anchor="middle" >A</text>
<text x="168.00" y="397.20" font-size="8.60" fill="#ffd9c9" font-weight="bold" text-anchor="middle" >A</text>
<text x="168.00" y="388.60" font-size="8.60" fill="#ffd9c9" font-weight="bold" text-anchor="middle" >A</text>
<rect x="229.90" y="359.20" width="7.60" height="47.00" fill="#fa3c05" />
<text x="233.70" y="405.40" font-size="8.60" fill="#ffd9c9" font-weight="bold" text-anchor="middle" >A</text>
<text x="233.70" y="396.80" font-size="8.60" fill="#ffd9c9" font-weight="bold" text-anchor="middle" >A</text>
<text x="233.70" y="388.20" font-size="8.60" fill="#ffd9c9" font-weight="bold" text-anchor="middle" >A</text>
<path d="M377.80 349.00 L377.00 349.00 Q368.50 349.00 368.90 340.51 L372.00 275.19 Q372.40 266.70 380.86 265.92 L449.54 259.58 Q458.00 258.80 457.29 267.27 L451.11 340.53 Q450.40 349.00 441.90 349.00 L441.10 349.00" fill="none" stroke="#960080" stroke-width="3.70" stroke-linejoin="round"/>
<path d="M377.80 349.00 L441.10 349.00" fill="none" stroke="#960080" stroke-width="3.70" stroke-dasharray="7.03 7.03" stroke-dashoffset="7.03"/>
<path d="M463.39 349.42 L462.59 349.39 Q454.10 349.00 454.82 340.53 L461.28 264.27 Q462.00 255.80 470.46 256.64 L538.64 263.46 Q547.10 264.30 547.06 272.80 L546.74 344.70 Q546.70 353.20 538.21 352.81 L537.41 352.78" fill="none" stroke="#960080" stroke-width="3.70" stroke-linejoin="round"/>
<path d="M463.39 349.42 L537.41 352.78" fill="none" stroke="#960080" stroke-width="3.70" stroke-dasharray="6.74 6.74" stroke-dashoffset="6.74"/>
<path d="M559.39 352.70 L558.59 352.75 Q550.10 353.20 550.22 344.70 L551.18 275.20 Q551.30 266.70 559.79 267.13 L623.31 270.37 Q631.80 270.80 632.66 279.26 L638.84 339.94 Q639.70 348.40 631.21 348.85 L630.41 348.90" fill="none" stroke="#960080" stroke-width="3.70" stroke-linejoin="round"/>
<path d="M559.39 352.70 L630.41 348.90" fill="none" stroke="#960080" stroke-width="3.70" stroke-dasharray="6.47 6.47" stroke-dashoffset="6.47"/>
<circle cx="414.10" cy="305.10" r="16.2" fill="#960080"/>
<circle cx="500.00" cy="305.50" r="16.2" fill="#960080"/>
<circle cx="591.00" cy="309.10" r="16.2" fill="#960080"/>
<rect x="383.00" y="384.00" width="7.60" height="40.80" fill="#9b9b9b" />
<text x="386.80" y="391.90" font-size="7.50" fill="#e8e8e8" font-weight="bold" text-anchor="middle" >T</text>
<text x="386.80" y="400.30" font-size="7.50" fill="#e8e8e8" font-weight="bold" text-anchor="middle" >T</text>
<text x="386.80" y="408.70" font-size="7.50" fill="#e8e8e8" font-weight="bold" text-anchor="middle" >T</text>
<rect x="427.00" y="384.00" width="7.60" height="40.80" fill="#9b9b9b" />
<text x="430.80" y="391.90" font-size="7.50" fill="#e8e8e8" font-weight="bold" text-anchor="middle" >T</text>
<text x="430.80" y="400.30" font-size="7.50" fill="#e8e8e8" font-weight="bold" text-anchor="middle" >T</text>
<text x="430.80" y="408.70" font-size="7.50" fill="#e8e8e8" font-weight="bold" text-anchor="middle" >T</text>
<rect x="405.00" y="362.20" width="8.00" height="62.60" fill="#9b9b9b" />
<text x="409.00" y="391.90" font-size="7.50" fill="#e8e8e8" font-weight="bold" text-anchor="middle" >T</text>
<text x="409.00" y="400.30" font-size="7.50" fill="#e8e8e8" font-weight="bold" text-anchor="middle" >T</text>
<text x="409.00" y="408.70" font-size="7.50" fill="#e8e8e8" font-weight="bold" text-anchor="middle" >T</text>
<rect x="413.00" y="362.20" width="8.00" height="48.40" fill="#fa3c05" />
<text x="417.00" y="409.80" font-size="8.60" fill="#ffd9c9" font-weight="bold" text-anchor="middle" >A</text>
<text x="417.00" y="402.00" font-size="8.60" fill="#ffd9c9" font-weight="bold" text-anchor="middle" >A</text>
<text x="417.00" y="394.20" font-size="8.60" fill="#ffd9c9" font-weight="bold" text-anchor="middle" >A</text>
<rect x="377.50" y="424.80" width="63.00" height="7.00" fill="#27a550" />
<path d="M398.80 383.20 L398.80 372.50 M395.30 376.00 L398.80 372.40 L402.30 376.00" fill="none" stroke="#555" stroke-width="1.8"/>
<rect x="495.50" y="384.00" width="7.60" height="40.80" fill="#3d3d3d" />
<text x="499.30" y="391.90" font-size="7.50" fill="#e8e8e8" font-weight="bold" text-anchor="middle" >T</text>
<text x="499.30" y="400.30" font-size="7.50" fill="#e8e8e8" font-weight="bold" text-anchor="middle" >T</text>
<text x="499.30" y="408.70" font-size="7.50" fill="#e8e8e8" font-weight="bold" text-anchor="middle" >T</text>
<rect x="473.00" y="362.20" width="8.00" height="62.60" fill="#3d3d3d" />
<text x="477.00" y="391.90" font-size="7.50" fill="#e8e8e8" font-weight="bold" text-anchor="middle" >T</text>
<text x="477.00" y="400.30" font-size="7.50" fill="#e8e8e8" font-weight="bold" text-anchor="middle" >T</text>
<text x="477.00" y="408.70" font-size="7.50" fill="#e8e8e8" font-weight="bold" text-anchor="middle" >T</text>
<rect x="481.00" y="362.20" width="8.00" height="48.40" fill="#fa3c05" />
<text x="485.00" y="409.80" font-size="8.60" fill="#ffd9c9" font-weight="bold" text-anchor="middle" >A</text>
<text x="485.00" y="402.00" font-size="8.60" fill="#ffd9c9" font-weight="bold" text-anchor="middle" >A</text>
<text x="485.00" y="394.20" font-size="8.60" fill="#ffd9c9" font-weight="bold" text-anchor="middle" >A</text>
<rect x="517.50" y="362.20" width="8.00" height="62.60" fill="#3d3d3d" />
<text x="521.50" y="391.90" font-size="7.50" fill="#e8e8e8" font-weight="bold" text-anchor="middle" >T</text>
<text x="521.50" y="400.30" font-size="7.50" fill="#e8e8e8" font-weight="bold" text-anchor="middle" >T</text>
<text x="521.50" y="408.70" font-size="7.50" fill="#e8e8e8" font-weight="bold" text-anchor="middle" >T</text>
<rect x="525.50" y="362.20" width="8.00" height="48.40" fill="#fa3c05" />
<text x="529.50" y="409.80" font-size="8.60" fill="#ffd9c9" font-weight="bold" text-anchor="middle" >A</text>
<text x="529.50" y="402.00" font-size="8.60" fill="#ffd9c9" font-weight="bold" text-anchor="middle" >A</text>
<text x="529.50" y="394.20" font-size="8.60" fill="#ffd9c9" font-weight="bold" text-anchor="middle" >A</text>
<rect x="468.00" y="424.80" width="62.50" height="7.00" fill="#27a550" />
<path d="M466.80 383.20 L466.80 372.50 M463.30 376.00 L466.80 372.40 L470.30 376.00" fill="none" stroke="#555" stroke-width="1.8"/>
<path d="M511.80 383.20 L511.80 372.50 M508.30 376.00 L511.80 372.40 L515.30 376.00" fill="none" stroke="#555" stroke-width="1.8"/>
<rect x="563.00" y="384.00" width="7.60" height="40.80" fill="#6a6a6a" />
<text x="566.80" y="391.90" font-size="7.50" fill="#e8e8e8" font-weight="bold" text-anchor="middle" >T</text>
<text x="566.80" y="400.30" font-size="7.50" fill="#e8e8e8" font-weight="bold" text-anchor="middle" >T</text>
<text x="566.80" y="408.70" font-size="7.50" fill="#e8e8e8" font-weight="bold" text-anchor="middle" >T</text>
<rect x="607.60" y="384.00" width="7.60" height="40.80" fill="#6a6a6a" />
<text x="611.40" y="391.90" font-size="7.50" fill="#e8e8e8" font-weight="bold" text-anchor="middle" >T</text>
<text x="611.40" y="400.30" font-size="7.50" fill="#e8e8e8" font-weight="bold" text-anchor="middle" >T</text>
<text x="611.40" y="408.70" font-size="7.50" fill="#e8e8e8" font-weight="bold" text-anchor="middle" >T</text>
<rect x="585.80" y="362.20" width="8.00" height="62.60" fill="#6a6a6a" />
<text x="589.80" y="391.90" font-size="7.50" fill="#e8e8e8" font-weight="bold" text-anchor="middle" >T</text>
<text x="589.80" y="400.30" font-size="7.50" fill="#e8e8e8" font-weight="bold" text-anchor="middle" >T</text>
<text x="589.80" y="408.70" font-size="7.50" fill="#e8e8e8" font-weight="bold" text-anchor="middle" >T</text>
<rect x="593.80" y="362.20" width="8.00" height="48.40" fill="#fa3c05" />
<text x="597.80" y="409.80" font-size="8.60" fill="#ffd9c9" font-weight="bold" text-anchor="middle" >A</text>
<text x="597.80" y="402.00" font-size="8.60" fill="#ffd9c9" font-weight="bold" text-anchor="middle" >A</text>
<text x="597.80" y="394.20" font-size="8.60" fill="#ffd9c9" font-weight="bold" text-anchor="middle" >A</text>
<rect x="558.30" y="424.80" width="62.20" height="7.00" fill="#27a550" />
<path d="M580.00 383.20 L580.00 372.50 M576.50 376.00 L580.00 372.40 L583.50 376.00" fill="none" stroke="#555" stroke-width="1.8"/>
<g transform="translate(750.20 280.20) rotate(-14.0)"><rect x="-7.10" y="-7.10" width="14.20" height="14.20" fill="#27a550"/>
<text x="0" y="4.7" font-size="13" fill="#fff" text-anchor="middle">C</text></g>
<g transform="translate(777.80 279.60) rotate(14.0)"><rect x="-7.10" y="-7.10" width="14.20" height="14.20" fill="#27a550"/>
<text x="0" y="4.7" font-size="13" fill="#fff" text-anchor="middle">G</text></g>
<g transform="translate(754.60 298.40) rotate(-10.0)"><rect x="-7.10" y="-7.10" width="14.20" height="14.20" fill="#27a550"/>
<text x="0" y="4.7" font-size="13" fill="#fff" text-anchor="middle">A</text></g>
<g transform="translate(773.80 298.80) rotate(11.0)"><rect x="-7.10" y="-7.10" width="14.20" height="14.20" fill="#27a550"/>
<text x="0" y="4.7" font-size="13" fill="#fff" text-anchor="middle">T</text></g>
<g transform="translate(756.70 317.40) rotate(0.0)"><rect x="-6.80" y="-6.80" width="13.60" height="13.60" fill="#27a550"/>
<text x="0" y="4.7" font-size="13" fill="#fff" text-anchor="middle">G</text></g>
<g transform="translate(771.40 317.40) rotate(0.0)"><rect x="-6.80" y="-6.80" width="13.60" height="13.60" fill="#27a550"/>
<text x="0" y="4.7" font-size="13" fill="#fff" text-anchor="middle">C</text></g>
<rect x="749.90" y="327.30" width="28.90" height="91.00" fill="#999999" />
<text x="756.80" y="359.40" font-size="14.50" fill="#fff" font-weight="normal" text-anchor="middle" stroke="#fff" stroke-width="0.3">T</text>
<text x="771.30" y="359.40" font-size="14.50" fill="#fff" font-weight="normal" text-anchor="middle" stroke="#fff" stroke-width="0.3">A</text>
<text x="756.80" y="374.50" font-size="14.50" fill="#fff" font-weight="normal" text-anchor="middle" stroke="#fff" stroke-width="0.3">T</text>
<text x="771.30" y="374.50" font-size="14.50" fill="#fff" font-weight="normal" text-anchor="middle" stroke="#fff" stroke-width="0.3">A</text>
<text x="756.80" y="390.40" font-size="14.50" fill="#fff" font-weight="normal" text-anchor="middle" stroke="#fff" stroke-width="0.3">T</text>
<text x="771.30" y="390.40" font-size="14.50" fill="#fff" font-weight="normal" text-anchor="middle" stroke="#fff" stroke-width="0.3">A</text>
<path d="M911 385.2 L891.8 385.2 A31.5 31.5 0 1 1 898.6 323 A59.6 59.6 0 0 1 1012.8 301.6 A41.85 41.85 0 1 1 1016.15 385.2 L1006 385.2" fill="none" stroke="#999" stroke-width="6"/>
<path d="M959.7 417 L959.7 346 M931.8 373.2 L959.7 345.3 L987.6 373.2" fill="none" stroke="#27a550" stroke-width="6.4" stroke-linejoin="miter"/>
</g>
</svg>
</body>
</html>
